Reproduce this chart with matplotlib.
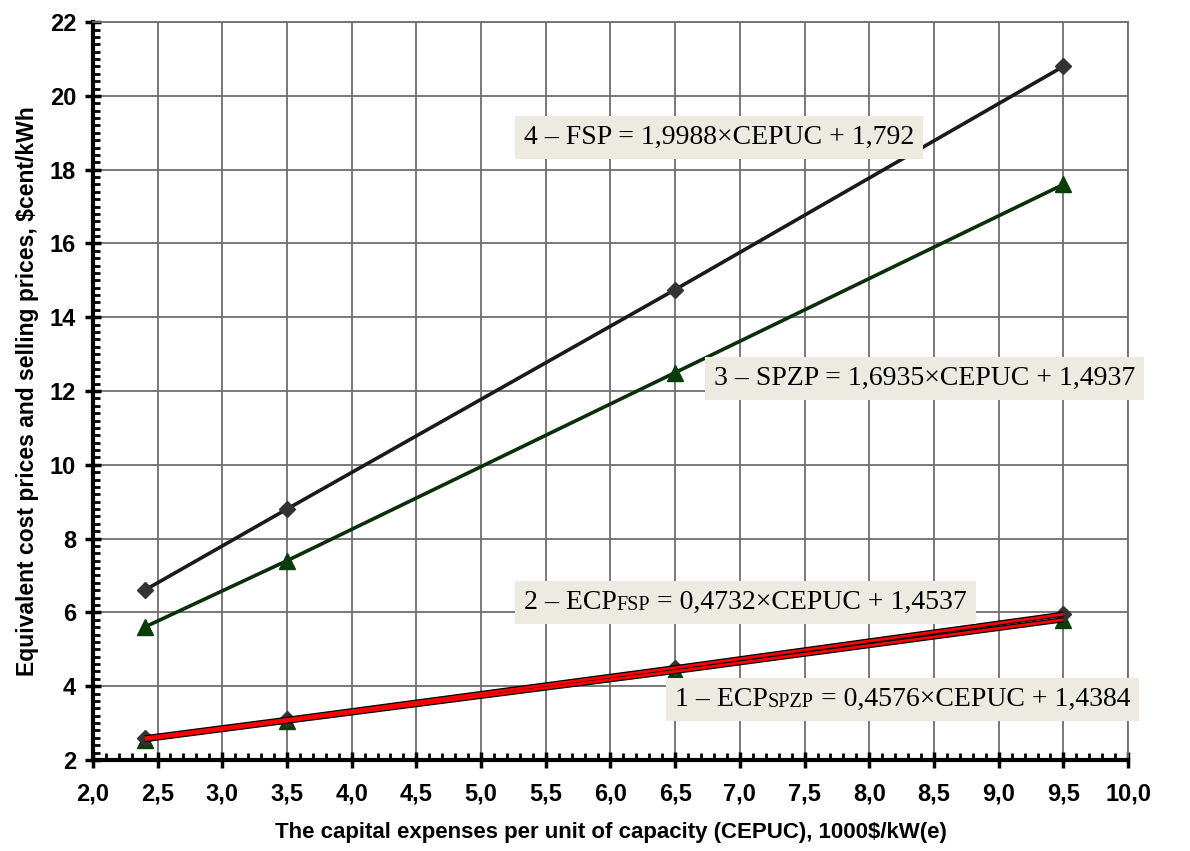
import matplotlib
matplotlib.use('Agg')
import matplotlib.pyplot as plt
from matplotlib.ticker import MultipleLocator, FuncFormatter
from matplotlib.patches import Rectangle
from matplotlib.transforms import IdentityTransform

# data
cepuc = [2.4, 3.5, 6.5, 9.5]
fsp = [6.6, 8.8, 14.75, 20.8]
spzp = [5.6, 7.4, 12.5, 17.6]
ecp_fsp = [2.6, 3.1, 4.5, 5.95]
ecp_spzp = [2.55, 3.05, 4.4, 5.8]

labels = [
    # (x, y, prefix, small, suffix)
    (5.33, 18.88, '4 \u2013 FSP = 1,9988\u00d7CEPUC + 1,792', '', ''),
    (6.8, 12.35, '3 \u2013 SPZP = 1,6935\u00d7CEPUC + 1,4937', '', ''),
    (5.33, 6.28, '2 \u2013 ECP', 'FSP', ' = 0,4732\u00d7CEPUC + 1,4537'),
    (6.5, 3.63, '1 \u2013 ECP', 'SPZP', ' = 0,4576\u00d7CEPUC + 1,4384'),
]

sans = ['Liberation Sans Narrow', 'Liberation Sans', 'DejaVu Sans']
serif = ['Liberation Serif', 'DejaVu Serif']
box_color = '#edebe1'

plt.rcParams['font.family'] = sans
plt.rcParams['font.weight'] = 'bold'

fig = plt.figure(figsize=(11.9, 8.51), dpi=100)
ax = fig.add_axes([0.078, 0.107, 0.870, 0.867])

ax.plot(cepuc, fsp, color='#1a1a1a', lw=2.6, marker='D', ms=8,
        mfc='#333333', mec='#333333', zorder=4)
ax.plot(cepuc, spzp, color='#0b2e0b', lw=2.6, marker='^', ms=11,
        mfc='#0a3d0a', mec='#0a3d0a', zorder=4)

# double lines (black edge with red core) for the ECP series
for ys, mk, mc, ms in [(ecp_spzp, '^', '#0a3d0a', 11), (ecp_fsp, 'D', '#333333', 8)]:
    ax.plot(cepuc, ys, ls='none', marker=mk, ms=ms, mfc=mc, mec=mc, zorder=3)
    ax.plot(cepuc, ys, color='black', lw=3.8, solid_capstyle='butt', zorder=4)
    ax.plot(cepuc, ys, color='#ff0000', lw=2.0, solid_capstyle='butt', zorder=5)

ax.set_xlim(2.0, 10.0)
ax.set_ylim(2, 22)
ax.xaxis.set_major_locator(MultipleLocator(0.5))
ax.xaxis.set_minor_locator(MultipleLocator(0.1))
ax.yaxis.set_major_locator(MultipleLocator(2))
ax.yaxis.set_minor_locator(MultipleLocator(0.2))
ax.xaxis.set_major_formatter(FuncFormatter(lambda v, p: f'{v:.1f}'.replace('.', ',')))
ax.yaxis.set_major_formatter(FuncFormatter(lambda v, p: f'{v:.0f}'))

ax.grid(True, which='major', color='#6e6e6e', lw=1.3)
ax.set_axisbelow(True)
for s in ['left', 'bottom']:
    ax.spines[s].set_linewidth(3)
    ax.spines[s].set_color('black')
for s in ['top', 'right']:
    ax.spines[s].set_linewidth(1.3)
    ax.spines[s].set_color('#6e6e6e')

ax.tick_params(which='major', direction='inout', length=12, width=2.5, pad=6,
               labelsize=17)
ax.tick_params(which='minor', direction='in', length=5, width=2)
ax.tick_params(axis='x', which='major', pad=10)

ax.set_xlabel('The capital expenses per unit of capacity (CEPUC), 1000$/kW(e)',
              fontweight='bold', fontsize=16, labelpad=12)
ax.set_ylabel('Equivalent cost prices and selling prices, $cent/kWh',
              fontweight='bold', fontsize=16.5, labelpad=8)

# equation labels, built from pieces so the small-caps part stays on the baseline
fig.canvas.draw()
renderer = fig.canvas.get_renderer()
for x, y, pre, small, post in labels:
    parts = []
    t = ax.text(x, y, pre, family=serif, fontweight='normal', fontsize=20,
                va='center', ha='left', zorder=7, clip_on=False)
    parts.append(t)
    if small:
        t2 = ax.annotate(small, xy=(1, 0), xycoords=t, va='bottom', ha='left',
                         family=serif, fontweight='normal', fontsize=14.5,
                         zorder=7, annotation_clip=False)
        parts.append(t2)
        t3 = ax.annotate(post, xy=(1, 0), xycoords=t2, va='bottom', ha='left',
                         family=serif, fontweight='normal', fontsize=20,
                         zorder=7, annotation_clip=False)
        parts.append(t3)
    fig.canvas.draw()
    bbs = [p.get_window_extent(renderer) for p in parts]
    x0 = min(b.x0 for b in bbs) - 9
    x1 = max(b.x1 for b in bbs) + 9
    y0 = bbs[0].y0 - 9
    y1 = bbs[0].y1 + 9
    rect = Rectangle((x0, y0), x1 - x0, y1 - y0, transform=IdentityTransform(),
                     facecolor=box_color, edgecolor='none', zorder=6, clip_on=False)
    ax.add_artist(rect)

fig.savefig('out.png', dpi=100)
